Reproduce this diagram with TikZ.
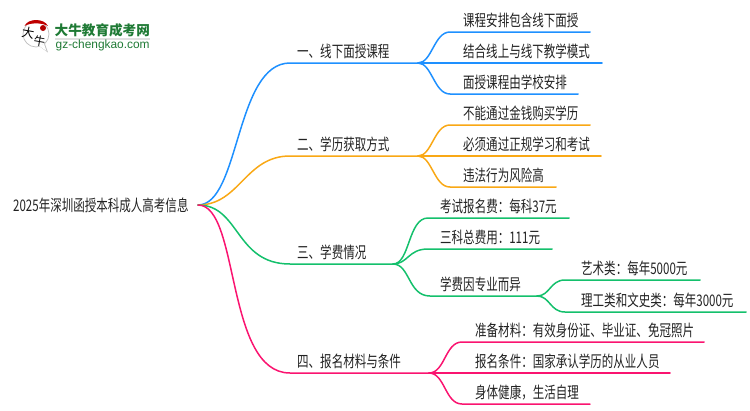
\documentclass[tikz,border=0pt]{standalone}
\usepackage{fontspec}
\setmainfont[FakeStretch=0.72]{Noto Sans CJK SC}
\newfontfamily\logofont{Noto Sans CJK SC}
\newfontfamily\logolat{Liberation Sans}
\definecolor{cblue}{HTML}{1E90FF}
\definecolor{corange}{HTML}{F9A815}
\definecolor{cgreen}{HTML}{14C06C}
\definecolor{cpink}{HTML}{FA1470}
\definecolor{ctext}{HTML}{222222}
\definecolor{clogo}{HTML}{1F7A35}
\tikzset{
  x=1pt,y=-1pt,
  lab/.style={anchor=base west,inner sep=0pt,font=\fontsize{16}{18}\selectfont,text=ctext},
  wire/.style={line width=1.5pt,line cap=round},
}
\begin{document}
\begin{tikzpicture}
\useasboundingbox (0,0) rectangle (750,410);
% logo
\fill[white,draw=black!25,line width=.7pt] (36,34) circle (13);
\fill[black!25] (39,46) -- (48,52.5) -- (45,44) -- cycle;
\fill[white] (38.5,45.5) -- (46.5,51) -- (44,44) -- cycle;
\fill[red!75!black] (24.5,26) .. controls (28,18) and (44,18) .. (48,26) .. controls (42,22.5) and (30,22.5) .. (24.5,26) -- cycle;
\fill[red!70!black] (43,28) circle (3);
\node[inner sep=0pt,font=\logofont\fontsize{12.5}{12}\selectfont,rotate=-10] (logoa) at (28,33) {大};
\node[inner sep=0pt,font=\logofont\fontsize{11.5}{12}\selectfont,rotate=-10] (logob) at (39.5,41) {牛};
\node[inner sep=0pt,anchor=base west,text=clogo,font=\logofont\bfseries\fontsize{13.6}{14}\selectfont] (logot) at (54.5,35) {大牛教育成考网};
\fill[black!12] (55,38) rectangle (150,39.5);
\node[inner sep=0pt,anchor=base west,text=clogo,font=\logolat\fontsize{11.9}{12}\selectfont] (logou) at (55.5,48.5) {gz-chengkao.com};
% points
\coordinate (root) at (198,205);
\coordinate (a) at (290,63);  \coordinate (af) at (418,63);
\coordinate (b) at (290,156); \coordinate (bf) at (418,156);
\coordinate (c) at (290,264); \coordinate (cf) at (393,264);
\coordinate (d) at (290,373); \coordinate (df) at (429,373);
\coordinate (cc) at (430,296);\coordinate (ccf) at (537,296);
% root branches
\draw[wire,cblue] (root) .. controls (240,205) and (235,63) .. (a) -- (af);
\draw[wire,corange] (root) .. controls (240,205) and (245,156) .. (b) -- (bf);
\draw[wire,cgreen] (root) .. controls (240,205) and (235,264) .. (c) -- (cf);
\draw[wire,cpink] (root) .. controls (240,205) and (225,373) .. (d) -- (df);
% blue
\coordinate (a1) at (450,32);\coordinate (a1e) at (590,32);
\coordinate (a2e) at (602,63);
\coordinate (a3) at (450,94);\coordinate (a3e) at (578,94);
\draw[wire,cblue] (af) .. controls (432,63) and (434,32) .. (a1) -- (a1e);
\draw[wire,cblue] (af) -- (a2e);
\draw[wire,cblue] (af) .. controls (432,63) and (434,94) .. (a3) -- (a3e);
% orange
\coordinate (b1) at (450,125);\coordinate (b1e) at (590,125);
\coordinate (b2e) at (601,156);
\coordinate (b3) at (450,187);\coordinate (b3e) at (556,187);
\draw[wire,corange] (bf) .. controls (432,156) and (434,125) .. (b1) -- (b1e);
\draw[wire,corange] (bf) -- (b2e);
\draw[wire,corange] (bf) .. controls (432,156) and (434,187) .. (b3) -- (b3e);
% green
\coordinate (c1) at (428,218);\coordinate (c1e) at (569,218);
\coordinate (c2) at (428,249);\coordinate (c2e) at (552,249);
\draw[wire,cgreen] (cf) .. controls (410,264) and (408,218) .. (c1) -- (c1e);
\draw[wire,cgreen] (cf) .. controls (408,264) and (408,249) .. (c2) -- (c2e);
\draw[wire,cgreen] (cf) .. controls (410,264) and (408,296) .. (cc) -- (ccf);
\coordinate (e1) at (565,280);\coordinate (e1e) at (700,280);
\coordinate (e2) at (565,312);\coordinate (e2e) at (746,312);
\draw[wire,cgreen] (ccf) .. controls (550,296) and (550,280) .. (e1) -- (e1e);
\draw[wire,cgreen] (ccf) .. controls (550,296) and (550,312) .. (e2) -- (e2e);
% pink
\coordinate (d1) at (462,342);\coordinate (d1e) at (704,342);
\coordinate (d2e) at (670,373);
\coordinate (d3) at (462,404);\coordinate (d3e) at (590,404);
\draw[wire,cpink] (df) .. controls (445,373) and (445,342) .. (d1) -- (d1e);
\draw[wire,cpink] (df) -- (d2e);
\draw[wire,cpink] (df) .. controls (445,373) and (445,404) .. (d3) -- (d3e);
% text
\node[lab] (troot) at (13,211) {2025年深圳函授本科成人高考信息};
\node[lab] (ta) at (297,57) {一、线下面授课程};
\node[lab] (tb) at (297,150) {二、学历获取方式};
\node[lab] (tc) at (297,258) {三、学费情况};
\node[lab] (td) at (297,367) {四、报名材料与条件};
\node[lab] (ta1) at (463,26) {课程安排包含线下面授};
\node[lab] (ta2) at (463,57) {结合线上与线下教学模式};
\node[lab] (ta3) at (463,88) {面授课程由学校安排};
\node[lab] (tb1) at (463,119) {不能通过金钱购买学历};
\node[lab] (tb2) at (463,150) {必须通过正规学习和考试};
\node[lab] (tb3) at (463,181) {违法行为风险高};
\node[lab] (tc1) at (440,212) {考试报名费：每科37元};
\node[lab] (tc2) at (440,243) {三科总费用：111元};
\node[lab] (tc3) at (440,290) {学费因专业而异};
\node[lab] (te1) at (581,274) {艺术类：每年5000元};
\node[lab] (te2) at (581,306) {理工类和文史类：每年3000元};
\node[lab] (td1) at (475,336) {准备材料：有效身份证、毕业证、免冠照片};
\node[lab] (td2) at (475,367) {报名条件：国家承认学历的从业人员};
\node[lab] (td3) at (475,398) {身体健康，生活自理};
\end{tikzpicture}
\end{document}
